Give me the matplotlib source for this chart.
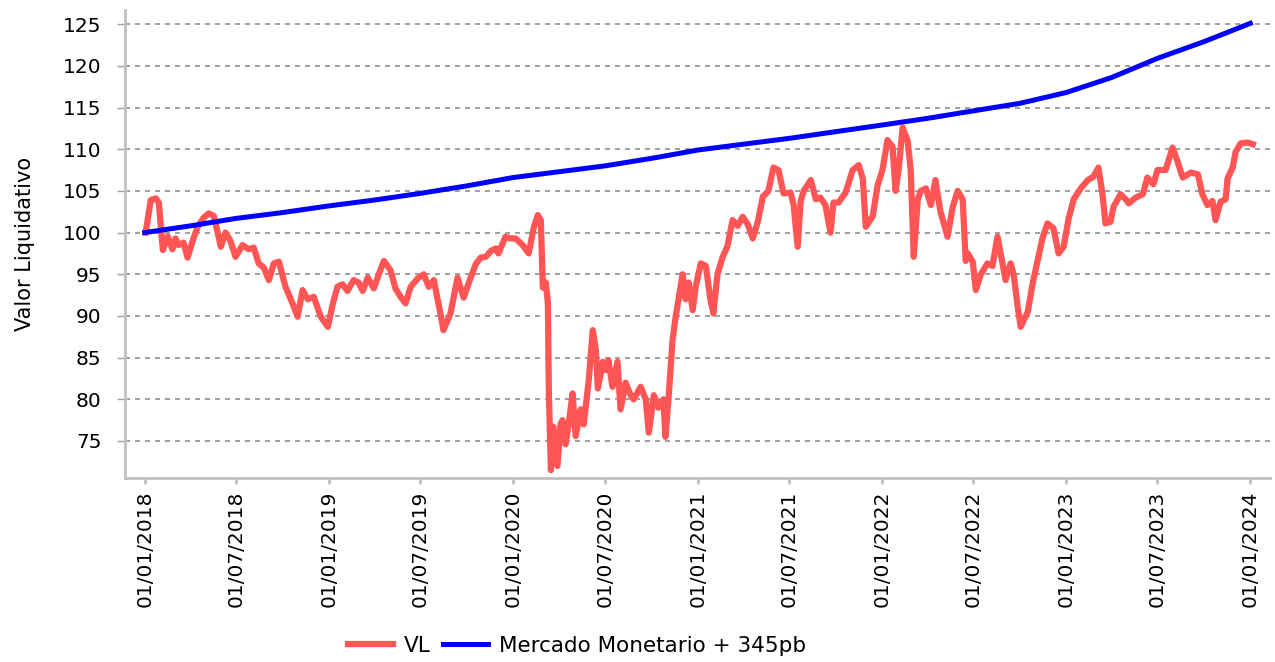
import numpy as np
import pandas as pd
import matplotlib
matplotlib.use("Agg")
import matplotlib.pyplot as plt
import matplotlib.dates as mdates

# ---- data ----
start = pd.Timestamp("2018-01-01")
vl_days = [2, 12, 22, 28, 36, 46, 55, 61, 67, 77, 85, 95, 105, 117, 127, 137, 151, 160, 170, 180,
           194, 206, 216, 226, 236, 246, 256, 266, 279, 293, 303, 313, 323, 335, 349, 363, 373, 382,
           392, 402, 414, 424, 432, 442, 454, 464, 474, 487, 497, 507, 517, 527, 541, 553, 563, 573,
           587, 592, 606, 620, 632, 646, 656, 666, 676, 686, 696, 701, 715, 725, 735, 749, 761, 771,
           779, 785, 789, 795, 799, 801, 805, 810, 818, 824, 828, 834, 840, 848, 854, 864, 870, 880,
           888, 894, 898, 908, 913, 919, 927, 937, 943, 953, 963, 969, 983, 993, 999, 1009, 1018,
           1028, 1032, 1038, 1046, 1052, 1058, 1066, 1072, 1078, 1086, 1092, 1102, 1112, 1121, 1127,
           1135, 1145, 1155, 1165, 1175, 1185, 1195, 1205, 1215, 1225, 1236, 1246, 1256, 1266, 1280,
           1286, 1294, 1300, 1306, 1320, 1330, 1339, 1349, 1359, 1365, 1375, 1389, 1403, 1415, 1423,
           1429, 1443, 1452, 1462, 1472, 1482, 1488, 1494, 1502, 1512, 1518, 1524, 1532, 1538, 1548,
           1558, 1567, 1577, 1591, 1601, 1611, 1621, 1627, 1631, 1641, 1647, 1657, 1670, 1680, 1690,
           1700, 1706, 1716, 1722, 1730, 1736, 1750, 1760, 1769, 1779, 1789, 1801, 1811, 1821, 1831,
           1841, 1855, 1869, 1880, 1890, 1898, 1904, 1914, 1920, 1934, 1944, 1950, 1964, 1978, 1987,
           1999, 2007, 2023, 2037, 2047, 2057, 2073, 2087, 2096, 2106, 2116, 2122, 2132, 2142, 2146,
           2156, 2162, 2172, 2186, 2196]
vl_values = [100.0, 103.9, 104.1, 103.6, 97.9, 99.5, 98.0, 99.3, 98.5, 98.8, 97.0, 99.0, 100.7, 101.8,
             102.3, 102.0, 98.3, 100.0, 99.0, 97.1, 98.5, 98.0, 98.2, 96.3, 95.8, 94.3, 96.3, 96.5,
             93.5, 91.5, 89.9, 93.1, 92.0, 92.3, 89.9, 88.7, 91.5, 93.5, 93.8, 93.0, 94.3, 94.0, 93.0,
             94.6, 93.3, 95.0, 96.6, 95.5, 93.3, 92.3, 91.5, 93.5, 94.5, 95.0, 93.5, 94.3, 90.0, 88.3,
             90.3, 94.6, 92.2, 94.6, 96.2, 97.0, 97.1, 97.8, 98.1, 97.5, 99.5, 99.3, 99.3, 98.5, 97.5,
             100.6, 102.1, 101.5, 93.4, 94.0, 91.5, 80.7, 71.5, 76.7, 72.0, 77.0, 77.5, 74.6, 77.0,
             80.7, 75.6, 78.8, 77.0, 82.3, 88.3, 86.0, 81.3, 84.5, 83.5, 84.7, 81.5, 84.5, 78.8, 82.0,
             80.5, 80.0, 81.5, 80.0, 76.0, 80.5, 79.0, 80.0, 75.5, 80.0, 87.1, 89.8, 92.0, 95.0, 92.0,
             94.0, 90.7, 93.5, 96.3, 96.0, 92.0, 90.3, 95.0, 97.0, 98.4, 101.5, 100.8, 101.9, 101.0,
             99.3, 101.3, 104.3, 105.0, 107.8, 107.5, 104.7, 104.8, 103.3, 98.3, 103.8, 105.0, 106.3,
             104.0, 104.2, 103.3, 100.0, 103.6, 103.6, 104.8, 107.5, 108.1, 106.5, 100.7, 102.0, 105.6,
             107.5, 111.1, 110.3, 105.0, 107.5, 112.6, 111.0, 107.5, 97.1, 104.0, 105.0, 105.3, 103.3,
             106.3, 102.5, 99.5, 103.0, 105.0, 104.0, 96.6, 97.5, 96.5, 93.1, 95.0, 96.3, 96.0, 99.5,
             96.3, 94.3, 96.3, 95.0, 91.1, 88.7, 90.5, 94.0, 96.5, 99.3, 101.1, 100.5, 97.5, 98.3,
             101.7, 104.0, 105.3, 106.3, 106.7, 107.8, 104.6, 101.1, 101.3, 103.1, 104.6, 104.0, 103.5,
             104.2, 104.6, 106.6, 105.8, 107.5, 107.5, 110.2, 108.5, 106.6, 107.2, 107.0, 104.6, 103.3,
             103.8, 101.5, 103.7, 104.0, 106.5, 107.8, 109.7, 110.7, 110.8, 110.6]

mm_dates = pd.date_range("2018-01-01", "2024-01-01", freq="QS")
mm_values = [100.0, 100.8, 101.7, 102.4, 103.2, 103.9, 104.7, 105.6, 106.6, 107.3, 108.0, 108.9,
             109.9, 110.6, 111.3, 112.1, 112.9, 113.7, 114.6, 115.5, 116.8, 118.6, 120.9, 122.9, 125.1]

series_labels = ["VL", "Mercado Monetario + 345pb"]
y_ticks = [75, 80, 85, 90, 95, 100, 105, 110, 115, 120, 125]
x_tick_dates = pd.date_range("2018-01-01", "2024-01-01", freq="6MS")

vl_dates = start + pd.to_timedelta(vl_days, unit="D")

# ---- plot ----
fig = plt.figure(figsize=(12.75, 6.62), dpi=100)
ax = fig.add_axes([125 / 1275, 1 - 478 / 662, (1270 - 125) / 1275, (478 - 10) / 662])

ax.plot(vl_dates, vl_values, color="#ff5555", lw=4.5, solid_joinstyle="round", label=series_labels[0])
ax.plot(mm_dates, mm_values, color="#0000ff", lw=3.6, label=series_labels[1])

ax.set_xlim(pd.Timestamp("2017-11-23"), pd.Timestamp("2024-02-09"))
ax.set_ylim(70.56, 126.7)

ax.set_yticks(y_ticks)
ax.set_xticks(x_tick_dates)
ax.set_xticklabels([d.strftime("%d/%m/%Y") for d in x_tick_dates], rotation=90, fontsize=14.5)
ax.tick_params(axis="y", labelsize=14.5, length=6, width=1, color="#a0a0a0", pad=11)
ax.tick_params(axis="x", length=4, width=2, color="#c0c0c0", pad=5)

ax.yaxis.grid(True, linestyle=(0, (3, 3)), color="#909090", lw=1.2)
ax.xaxis.grid(False)
ax.set_axisbelow(True)

for s in ["top", "right"]:
    ax.spines[s].set_visible(False)
for s in ["left", "bottom"]:
    ax.spines[s].set_color("#c0c0c0")
    ax.spines[s].set_linewidth(2)

ax.set_ylabel("Valor Liquidativo", fontsize=15)
ax.yaxis.set_label_coords(-0.079, 0.5)

fig.legend(loc="center", bbox_to_anchor=(577 / 1275, 1 - 646 / 662), ncol=2, frameon=False,
           fontsize=15.5, handlelength=2.1, handletextpad=0.5, columnspacing=0.55)

fig.savefig("out.png", dpi=100)
